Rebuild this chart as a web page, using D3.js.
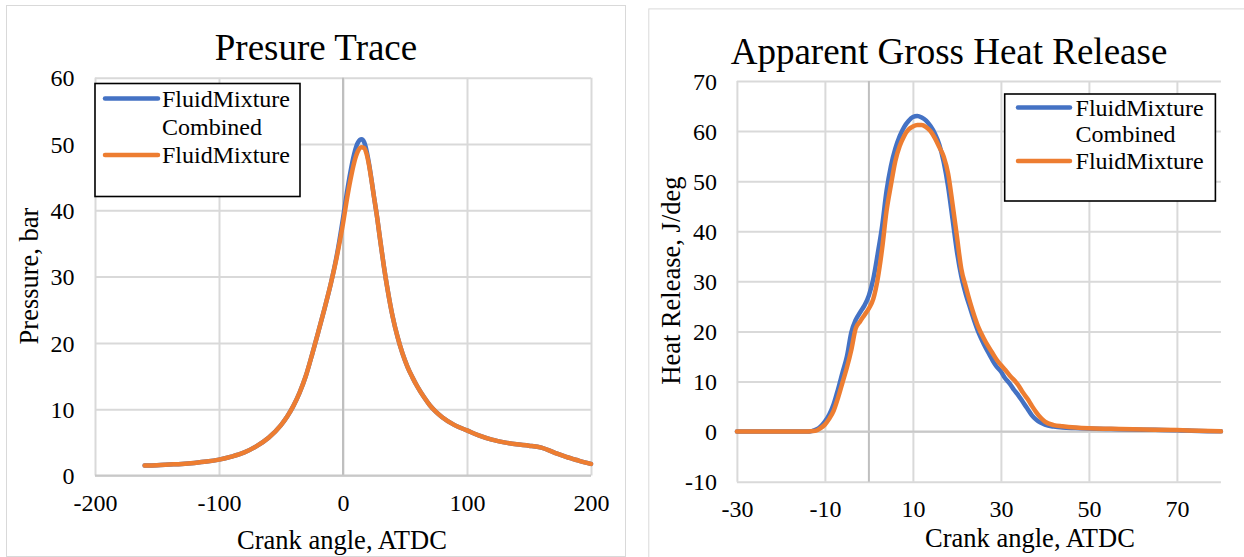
<!DOCTYPE html>
<html>
<head>
<meta charset="utf-8">
<script src="https://cdn.jsdelivr.net/npm/d3@7/dist/d3.min.js"></script>
<style>
  html, body { margin: 0; padding: 0; background: #fff; }
  svg { display: block; }
  text { font-family: "Liberation Serif", "Times New Roman", serif; fill: #000; }
</style>
</head>
<body>
<svg id="chart" width="1244" height="557"></svg>
<script>
// ---- Pressure trace data (crank angle in degrees ATDC, pressure in bar)
const pAngle = [-160, -150, -140, -130, -120, -110, -100, -90, -80, -70, -60, -50, -45, -40, -35, -30, -25, -20, -15, -10, -5, 0, 3, 6, 9, 12, 15, 17, 19, 21, 23, 25, 27, 30, 33, 36, 40, 44, 48, 52, 56, 60, 65, 70, 75, 80, 90, 100, 110, 120, 130, 140, 150, 160, 170, 180, 190, 200];
const pCombined = [1.5, 1.55, 1.65, 1.75, 1.9, 2.1, 2.4, 2.85, 3.45, 4.4, 5.7, 7.6, 8.9, 10.5, 12.5, 15.0, 18.2, 21.6, 25.1, 28.8, 33.2, 38.8, 42.5, 45.8, 48.5, 50.2, 50.7, 50.3, 49.0, 47.0, 44.6, 42.0, 39.6, 35.5, 31.5, 28.0, 24.0, 20.9, 18.4, 16.4, 14.8, 13.4, 11.9, 10.6, 9.6, 8.8, 7.6, 6.8, 6.0, 5.4, 5.0, 4.7, 4.5, 4.2, 3.5, 2.8, 2.25, 1.75];
const pFluid = [1.5, 1.55, 1.65, 1.75, 1.9, 2.1, 2.4, 2.85, 3.45, 4.4, 5.7, 7.6, 8.9, 10.5, 12.5, 15.0, 18.2, 21.6, 25.1, 28.8, 33.0, 38.0, 41.5, 44.6, 47.2, 48.9, 49.5, 49.4, 48.5, 46.8, 44.5, 42.0, 39.6, 35.5, 31.5, 28.0, 24.0, 20.9, 18.4, 16.4, 14.8, 13.4, 11.9, 10.6, 9.6, 8.8, 7.6, 6.8, 6.0, 5.4, 5.0, 4.7, 4.5, 4.2, 3.5, 2.8, 2.25, 1.75];
const pXTicks = [-200, -100, 0, 100, 200];
const pYTicks = [0, 10, 20, 30, 40, 50, 60];

// ---- Apparent gross heat release data (crank angle ATDC, J/deg)
const hrAngle = [-30, -20, -14, -13, -12, -11, -10, -9, -8, -7, -6, -5, -4, -3, -2, -1, 0, 1, 2, 3, 4, 5, 6, 7, 8, 9, 10, 11, 12, 13, 14, 15, 16, 17, 18, 19, 20, 21, 22, 23, 24, 25, 26, 27, 28, 29, 30, 31, 32, 33, 34, 35, 36, 37, 38, 39, 40, 42, 44, 47, 50, 55, 60, 65, 70, 75, 80];
const hrCombined = [0, 0, 0, 0.1, 0.4, 1.0, 2.0, 3.4, 5.5, 8.5, 11.8, 15.0, 19.8, 22.3, 23.8, 25.2, 27.2, 30.5, 35.5, 41.0, 48.0, 53.0, 56.5, 59.0, 60.8, 62.0, 62.8, 63.0, 62.7, 62.1, 61.0, 59.5, 57.3, 53.8, 48.9, 42.5, 36.0, 31.0, 27.5, 24.7, 22.0, 19.6, 17.7, 16.0, 14.4, 13.0, 12.0, 10.6, 9.6, 8.3, 7.2, 5.9, 4.6, 3.3, 2.4, 1.8, 1.4, 1.0, 0.8, 0.7, 0.6, 0.5, 0.42, 0.35, 0.28, 0.12, 0.05];
const hrFluid = [0, 0, 0, 0.1, 0.2, 0.7, 1.4, 2.6, 4.2, 6.8, 9.8, 12.8, 16.3, 20.6, 22.0, 23.3, 24.6, 26.5, 30.5, 36.5, 44.0, 49.2, 54.0, 57.0, 59.0, 60.3, 60.9, 61.2, 61.2, 60.8, 60.0, 58.6, 56.8, 54.9, 51.5, 45.5, 39.0, 32.5, 29.0, 25.8, 23.0, 20.6, 18.8, 17.2, 15.8, 14.4, 13.3, 12.3, 11.2, 10.3, 9.2, 7.8, 6.6, 5.2, 3.9, 2.8, 2.0, 1.3, 1.05, 0.8, 0.65, 0.55, 0.45, 0.38, 0.3, 0.15, 0.05];
const hrXTicks = [-30, -10, 10, 30, 50, 70];
const hrYTicks = [-10, 0, 10, 20, 30, 40, 50, 60, 70];

const seriesNames = ["FluidMixture Combined", "FluidMixture"];
const seriesColors = ["#4472C4", "#ED7D31"];
const serif = '"Liberation Serif", "Times New Roman", serif';

const svg = d3.select("#chart");

// Draws one chart panel: frame, grid, axes, lines, legend and titles.
function drawPanel(cfg) {
  const g = svg.append("g");

  // outer chart frame
  g.append("rect")
    .attr("x", cfg.frame[0]).attr("y", cfg.frame[1])
    .attr("width", cfg.frame[2]).attr("height", cfg.frame[3])
    .attr("fill", "#fff").attr("stroke", "#d9d9d9").attr("stroke-width", 1);

  const x = d3.scaleLinear().domain(cfg.xDomain).range([cfg.plot.left, cfg.plot.right]);
  const y = d3.scaleLinear().domain(cfg.yDomain).range([cfg.plot.bottom, cfg.plot.top]);

  // vertical gridlines
  g.append("g")
    .attr("transform", `translate(0,${cfg.plot.bottom})`)
    .call(d3.axisBottom(x).tickValues(cfg.xTicks).tickSize(-(cfg.plot.bottom - cfg.plot.top)).tickFormat(""))
    .call(a => a.select(".domain").remove())
    .call(a => a.selectAll("line").attr("stroke", "#d9d9d9").attr("stroke-width", 2));

  // horizontal gridlines
  g.append("g")
    .attr("transform", `translate(${cfg.plot.left},0)`)
    .call(d3.axisLeft(y).tickValues(cfg.yTicks).tickSize(-(cfg.plot.right - cfg.plot.left)).tickFormat(""))
    .call(a => a.select(".domain").remove())
    .call(a => a.selectAll("line").attr("stroke", "#d9d9d9").attr("stroke-width", 2));

  // axis lines crossing at zero
  g.append("line")
    .attr("x1", x(0)).attr("x2", x(0))
    .attr("y1", cfg.plot.top).attr("y2", cfg.plot.bottom)
    .attr("stroke", "#bfbfbf").attr("stroke-width", 2);
  g.append("line")
    .attr("x1", cfg.plot.left).attr("x2", cfg.plot.right)
    .attr("y1", y(0)).attr("y2", y(0))
    .attr("stroke", "#c8c8c8").attr("stroke-width", 2);

  // tick labels
  g.append("g")
    .attr("transform", `translate(0,${cfg.plot.bottom})`)
    .call(d3.axisBottom(x).tickValues(cfg.xTicks).tickSize(0).tickPadding(0).tickFormat(d => String(d).replace("\u2212", "-")))
    .attr("font-family", serif).attr("font-size", 24)
    .call(a => a.select(".domain").remove())
    .call(a => a.selectAll("text")
      .attr("y", cfg.xLabelBaseline - cfg.plot.bottom).attr("dy", null)
      .attr("fill", "#000"));

  g.append("g")
    .attr("transform", `translate(${cfg.yLabelRight},0)`)
    .call(d3.axisLeft(y).tickValues(cfg.yTicks).tickSize(0).tickPadding(0).tickFormat(d => String(d).replace("\u2212", "-")))
    .attr("font-family", serif).attr("font-size", 24)
    .call(a => a.select(".domain").remove())
    .call(a => a.selectAll("text")
      .attr("x", 0).attr("dy", "0.34em")
      .attr("fill", "#000"));

  // data lines
  const line = d3.line()
    .x(d => x(d[0])).y(d => y(d[1]))
    .curve(d3.curveMonotoneX);
  cfg.series.forEach((vals, i) => {
    g.append("path")
      .datum(cfg.xVals.map((v, k) => [v, vals[k]]))
      .attr("fill", "none")
      .attr("stroke", seriesColors[i])
      .attr("stroke-width", 4.5)
      .attr("stroke-linejoin", "round")
      .attr("stroke-linecap", "round")
      .attr("d", line);
  });

  // legend
  const L = cfg.legend;
  g.append("rect")
    .attr("x", L.x).attr("y", L.y).attr("width", L.w).attr("height", L.h)
    .attr("fill", "#fff").attr("stroke", "#000").attr("stroke-width", 1.6);
  const rows = [
    { color: seriesColors[0], lines: ["FluidMixture", "Combined"] },
    { color: seriesColors[1], lines: ["FluidMixture"] }
  ];
  let baseline = L.firstBaseline;
  rows.forEach(r => {
    g.append("line")
      .attr("x1", L.lineX1).attr("x2", L.lineX2)
      .attr("y1", baseline - 8).attr("y2", baseline - 8)
      .attr("stroke", r.color).attr("stroke-width", 4.5).attr("stroke-linecap", "round");
    r.lines.forEach(t => {
      g.append("text")
        .attr("x", L.textX).attr("y", baseline)
        .attr("font-family", serif).style("font-size", "24px").text(t);
      baseline += L.lineStep;
    });
  });

  // titles
  g.append("text")
    .attr("x", cfg.title.x).attr("y", cfg.title.y)
    .attr("text-anchor", "middle").style("font-size", "37px")
    .text(cfg.title.text);
  g.append("text")
    .attr("x", cfg.xTitle.x).attr("y", cfg.xTitle.y)
    .attr("text-anchor", "middle").style("font-size", "26.5px")
    .text(cfg.xTitle.text);
  g.append("text")
    .attr("transform", `translate(${cfg.yTitle.x},${cfg.yTitle.y}) rotate(-90)`)
    .attr("text-anchor", "middle").style("font-size", "26.5px")
    .text(cfg.yTitle.text);
}

drawPanel({
  frame: [6.5, 5.5, 619, 551],
  plot: { left: 95, right: 591, top: 77.7, bottom: 475.5 },
  xDomain: [-200, 200], yDomain: [0, 60],
  xTicks: pXTicks, yTicks: pYTicks,
  xLabelBaseline: 511, yLabelRight: 74.5,
  xVals: pAngle, series: [pCombined, pFluid],
  legend: { x: 95, y: 83.5, w: 205, h: 113, lineX1: 105, lineX2: 158, textX: 162, firstBaseline: 106.5, lineStep: 28.2 },
  title: { x: 316, y: 59.7, text: "Presure Trace" },
  xTitle: { x: 342, y: 548.8, text: "Crank angle, ATDC" },
  yTitle: { x: 38.2, y: 276, text: "Pressure, bar" }
});

drawPanel({
  frame: [648.8, 8.9, 620, 570],
  plot: { left: 736.9, right: 1220.9, top: 81, bottom: 481.7 },
  xDomain: [-30, 80], yDomain: [-10, 70],
  xTicks: hrXTicks, yTicks: hrYTicks,
  xLabelBaseline: 517, yLabelRight: 717,
  xVals: hrAngle, series: [hrCombined, hrFluid],
  legend: { x: 1004.7, y: 94, w: 210.7, h: 107, lineX1: 1018, lineX2: 1070, textX: 1075.6, firstBaseline: 115.5, lineStep: 26.8 },
  title: { x: 949, y: 63.5, text: "Apparent Gross Heat Release" },
  xTitle: { x: 1030, y: 547, text: "Crank angle, ATDC" },
  yTitle: { x: 680, y: 280.6, text: "Heat Release, J/deg" }
});
</script>
</body>
</html>
